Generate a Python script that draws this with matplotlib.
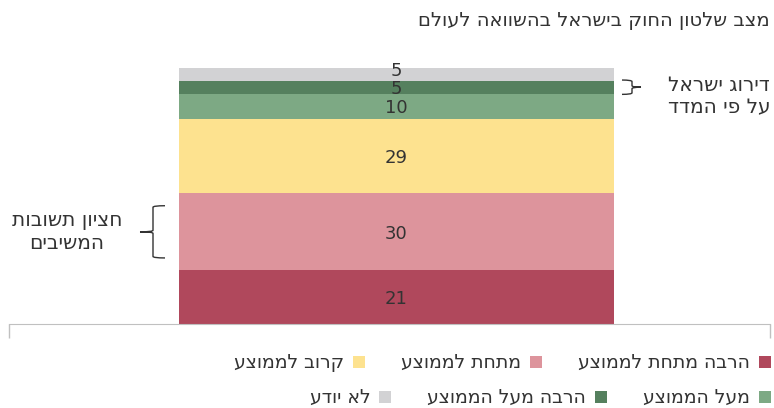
import matplotlib.pyplot as plt
from matplotlib.patches import Rectangle, PathPatch
from matplotlib.path import Path
from matplotlib.transforms import blended_transform_factory

plt.rcParams['font.family'] = ['DejaVu Sans']

def heb(s):
    # matplotlib has no bidi support, flip each line for display
    return '\n'.join(line[::-1] for line in s.split('\n'))

title = 'מצב שלטון החוק בישראל בהשוואה לעולם'
categories = ['הרבה מתחת לממוצע', 'מתחת לממוצע', 'קרוב לממוצע',
              'מעל הממוצע', 'הרבה מעל הממוצע', 'לא יודע']
values = [21, 30, 29, 10, 5, 5]
colors = ['#b0485c', '#dd949c', '#fde28f', '#7da984', '#55805e', '#d2d2d4']
median_label = 'חציון תשובות\nהמשיבים'
median_idx = 1
israel_label = 'דירוג ישראל\nעל פי המדד'
israel_idx = 4

W, H = 774, 408
fig = plt.figure(figsize=(W / 100, H / 100), dpi=100)
ax = fig.add_axes([9 / W, (H - 324) / H, 761 / W, 256 / H])

txt = '#333333'
fs = 14
bottom = 0
centers = []
for k, (v, c) in enumerate(zip(values, colors)):
    ax.bar(0, v, bottom=bottom, width=0.572, color=c)
    centers.append(bottom + v / 2)
    dy = -1.5 if k < len(values) - 1 else 2.5
    ax.annotate(str(v), (0, bottom + v / 2), xytext=(0, dy), textcoords='offset points',
                ha='center', va='center', fontsize=13, color=txt)
    bottom += v

ax.set_xlim(-0.509, 0.491)
ax.set_ylim(0, 100)
for s in ['left', 'right', 'top']:
    ax.spines[s].set_visible(False)
ax.spines['bottom'].set_color('#c0c0c0')
ax.set_yticks([])
ax.set_xticks(ax.get_xlim())
ax.set_xticklabels([])
ax.tick_params(axis='x', length=10, color='#c0c0c0', width=1)

fig.text(770 / W, 1 - 20 / H, heb(title), ha='right', va='center',
         fontsize=fs, color=txt)

# braces
tr = blended_transform_factory(ax.transAxes, ax.transData)
px = 1 / 761.0

def brace(xv, xo, ymid, half, out):
    # xv: vertical line x, xo: horn end x, out: point x (axes fraction)
    yt, yb = ymid + half, ymid - half
    d = 0.6
    verts = [(xo, yt), (xv, yt), (xv, yt - d),
             (xv, ymid + d), (xv, ymid), (out, ymid),
             (xv, ymid), (xv, ymid - d),
             (xv, yb + d), (xv, yb), (xo, yb)]
    codes = [Path.MOVETO, Path.CURVE3, Path.CURVE3,
             Path.LINETO, Path.CURVE3, Path.CURVE3,
             Path.CURVE3, Path.CURVE3,
             Path.LINETO, Path.CURVE3, Path.CURVE3]
    p = PathPatch(Path(verts, codes), transform=tr, fill=False,
                  edgecolor='#333333', lw=1, clip_on=False)
    ax.add_patch(p)

brace((153 - 9) * px, (165 - 9) * px, centers[median_idx], 10.2, (140 - 9) * px)
brace((632 - 9) * px, (622 - 9) * px, centers[israel_idx], 2.8, (641 - 9) * px)
ax.text((67 - 9) * px, centers[median_idx], heb(median_label), transform=tr,
        ha='center', va='center', fontsize=14.5, color=txt, linespacing=1.3)
ax.text((770 - 9) * px, centers[israel_idx] - 3.6, heb(israel_label), transform=tr,
        ha='right', va='center', fontsize=14.5, color=txt, linespacing=1.25)

# legend, flowing right to left
fig.canvas.draw()
renderer = fig.canvas.get_renderer()
rows = [[0, 1, 2], [3, 4, 5]]
row_y = [362, 397]
for row, y in zip(rows, row_y):
    x = 771
    for i in row:
        fig.patches.append(Rectangle(((x - 12) / W, 1 - (y + 6) / H), 12 / W, 12 / H,
                                     transform=fig.transFigure, facecolor=colors[i],
                                     edgecolor='none'))
        x -= 12 + 9
        t = fig.text(x / W, 1 - y / H, heb(categories[i]), ha='right', va='center',
                     fontsize=13.6, color=txt)
        w = t.get_window_extent(renderer).width
        x -= w + 36

fig.savefig('out.png', dpi=100)
